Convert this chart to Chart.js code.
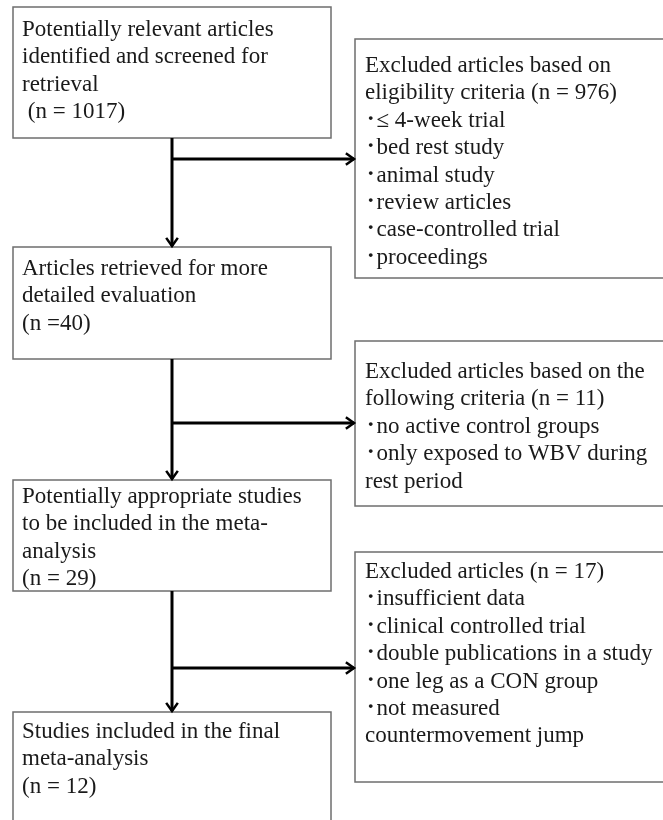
<!DOCTYPE html>
<html>
<head>
<meta charset="utf-8">
<script src="https://cdn.jsdelivr.net/npm/chart.js@4/dist/chart.umd.min.js"></script>
<style>
  html, body { margin: 0; padding: 0; background: #fff; }
  #wrap { width: 663px; height: 820px; }
</style>
</head>
<body>
<div id="wrap"><canvas id="flow" width="663" height="820"></canvas></div>
<script>
// flow stages (left column) and the counts at each stage
var stageLines = [
  ["Potentially relevant articles", "identified and screened for", "retrieval"],
  ["Articles retrieved for more", "detailed evaluation"],
  ["Potentially appropriate studies", "to be included in the meta-", "analysis"],
  ["Studies included in the final", "meta-analysis"]
];
var stageN = [" (n = 1017)", "(n =40)", "(n = 29)", "(n = 12)"];

// exclusions (right column)
var exclHead = [
  ["Excluded articles based on", "eligibility criteria (n = 976)"],
  ["Excluded articles based on the", "following criteria (n = 11)"],
  ["Excluded articles (n = 17)"]
];
var exclReasons = [
  ["\uFF65\u2264 4-week trial", "\uFF65bed rest study", "\uFF65animal study", "\uFF65review articles", "\uFF65case-controlled trial", "\uFF65proceedings"],
  ["\uFF65no active control groups", "\uFF65only exposed to WBV during", "rest period"],
  ["\uFF65insufficient data", "\uFF65clinical controlled trial", "\uFF65double publications in a study", "\uFF65one leg as a CON group", "\uFF65not measured", "countermovement jump"]
];

// layout in page units (x0, y0, x1, y1, first baseline)
var leftBoxes = [[13, 7, 331, 138, 36], [13, 247, 331, 359, 275], [13, 480, 331, 591, 503], [13, 712, 331, 840, 738]];
var rightBoxes = [[355, 39, 700, 278, 72], [355, 341, 700, 506, 378], [355, 552, 700, 782, 578]];
var branchY = [159, 423, 668];
var trunkX = 172;
var lineH = 27.4;
var font = "23px 'Liberation Serif', 'Noto Sans CJK JP', serif";

var flowPlugin = {
  id: 'flow',
  afterDraw: function(chart) {
    var c = chart.ctx, sx = chart.scales.x, sy = chart.scales.y;
    var X = function(v){ return sx.getPixelForValue(v); };
    var Y = function(v){ return sy.getPixelForValue(v); };
    c.save();

    function box(b, lines, tx) {
      c.strokeStyle = '#6e6e6e';
      c.lineWidth = 1.5;
      c.strokeRect(X(b[0]), Y(b[1]), X(b[2]) - X(b[0]), Y(b[3]) - Y(b[1]));
      c.fillStyle = '#1a1a1a';
      c.font = font;
      c.textBaseline = 'alphabetic';
      lines.forEach(function(t, i){
        c.fillText(t, X(tx), Y(b[4] + i * lineH));
      });
    }

    function arrow(x0, y0, x1, y1) {
      c.strokeStyle = '#000';
      c.lineWidth = 3;
      c.beginPath();
      c.moveTo(X(x0), Y(y0));
      c.lineTo(X(x1), Y(y1));
      c.stroke();
      var a = Math.atan2(Y(y1) - Y(y0), X(x1) - X(x0));
      var L = 10, W = 0.62;
      c.lineWidth = 2.5;
      c.beginPath();
      c.moveTo(X(x1) - L * Math.cos(a - W), Y(y1) - L * Math.sin(a - W));
      c.lineTo(X(x1), Y(y1));
      c.lineTo(X(x1) - L * Math.cos(a + W), Y(y1) - L * Math.sin(a + W));
      c.stroke();
    }

    leftBoxes.forEach(function(b, i){
      box(b, stageLines[i].concat([stageN[i]]), 22);
    });
    rightBoxes.forEach(function(b, i){
      box(b, exclHead[i].concat(exclReasons[i]), 365);
    });

    for (var i = 0; i < branchY.length; i++) {
      arrow(trunkX, leftBoxes[i][3], trunkX, leftBoxes[i + 1][1] - 1);
      arrow(trunkX, branchY[i], rightBoxes[i][0] - 1, branchY[i]);
    }
    c.restore();
  }
};

new Chart(document.getElementById('flow'), {
  type: 'scatter',
  data: { datasets: [{ data: [], pointRadius: 0 }] },
  options: {
    responsive: false,
    animation: false,
    layout: { padding: 0 },
    plugins: { legend: { display: false }, tooltip: { enabled: false } },
    scales: {
      x: { type: 'linear', min: 0, max: 663, display: false },
      y: { type: 'linear', min: 0, max: 820, reverse: true, display: false }
    }
  },
  plugins: [flowPlugin]
});
</script>
</body>
</html>
